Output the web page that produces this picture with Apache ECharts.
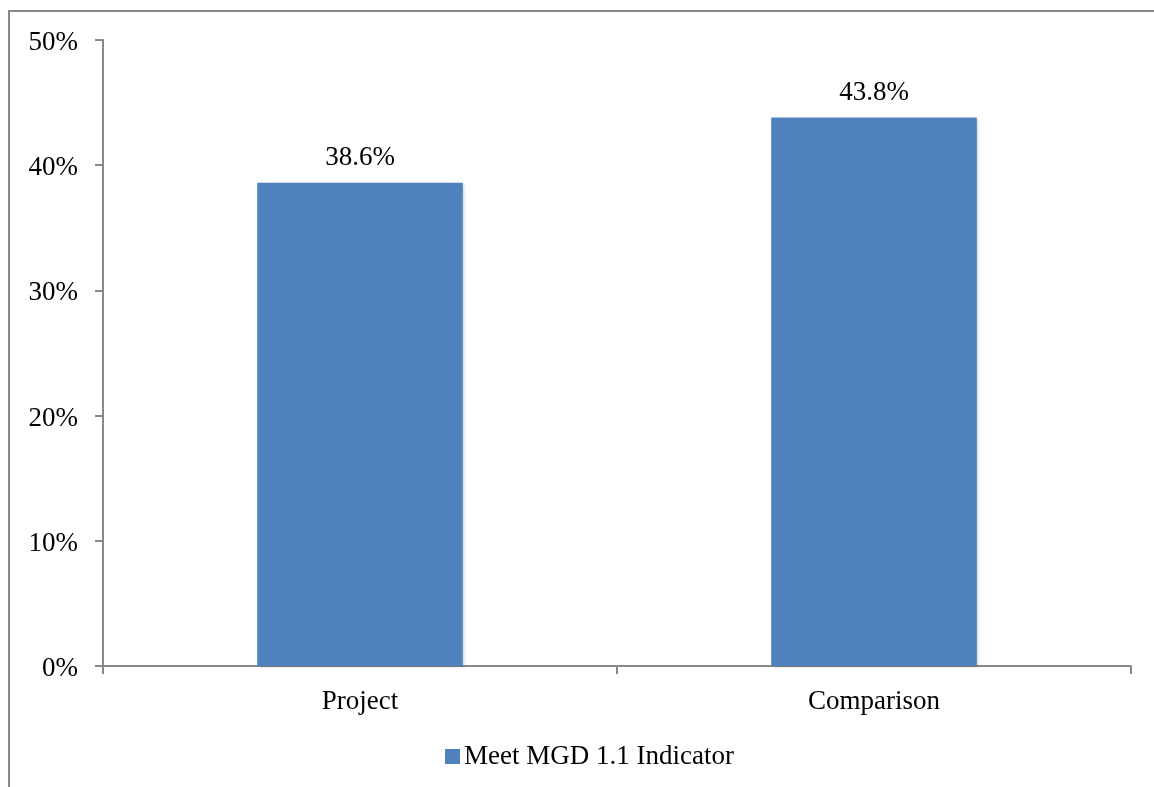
<!DOCTYPE html>
<html>
<head>
<meta charset="utf-8">
<script src="https://cdn.jsdelivr.net/npm/echarts@6/dist/echarts.min.js"></script>
<style>
  html, body { margin: 0; padding: 0; background: #fff; }
  #chart { width: 1154px; height: 787px; }
</style>
</head>
<body>
<div id="chart"></div>
<script>
// Share of households meeting the MGD 1.1 indicator
const categories = ['Project', 'Comparison'];
const meetValues = [38.6, 43.8];
const seriesName = 'Meet MGD 1.1 Indicator';
const yTicks = { min: 0, max: 50, step: 10 };

const FONT = 'Liberation Serif';
const FONT_SIZE = 27;
const AXIS_GRAY = '#888888';

const chart = echarts.init(document.getElementById('chart'));
chart.setOption({
  animation: false,
  backgroundColor: '#ffffff',
  graphic: [{
    type: 'rect',
    shape: { x: 9, y: 11, width: 1300, height: 1000 },
    style: { fill: 'none', stroke: AXIS_GRAY, lineWidth: 2 },
    silent: true
  }],
  grid: { left: 103, top: 40, right: 23, bottom: 121 },
  legend: {
    data: [seriesName],
    top: 738,
    left: 440,
    icon: 'rect',
    itemWidth: 15,
    itemHeight: 15,
    itemGap: 6,
    textStyle: { fontFamily: FONT, fontSize: FONT_SIZE, color: '#000', padding: [0, 0, 0, -1] }
  },
  xAxis: {
    type: 'category',
    data: categories,
    axisLine: { lineStyle: { color: AXIS_GRAY, width: 2 } },
    axisTick: { show: true, length: 8, lineStyle: { color: AXIS_GRAY, width: 2 } },
    axisLabel: { fontFamily: FONT, fontSize: FONT_SIZE, color: '#000', margin: 22 }
  },
  yAxis: {
    type: 'value',
    min: yTicks.min,
    max: yTicks.max,
    interval: yTicks.step,
    splitLine: { show: false },
    axisLine: { show: true, lineStyle: { color: AXIS_GRAY, width: 2 } },
    axisTick: { show: true, length: 8, lineStyle: { color: AXIS_GRAY, width: 2 } },
    axisLabel: {
      margin: 25,
      formatter: v => '{t|' + v + '%}',
      rich: {
        t: {
          fontFamily: FONT, fontSize: FONT_SIZE, color: '#000',
          padding: [6, 0, 0, 0]
        }
      }
    }
  },
  series: [{
    name: seriesName,
    type: 'bar',
    data: meetValues,
    barWidth: '40%',
    itemStyle: {
      color: '#4F81BD',
      shadowColor: 'rgba(0,0,0,0.25)',
      shadowBlur: 3,
      shadowOffsetX: 1.5,
      shadowOffsetY: 1
    },
    label: {
      show: true,
      position: 'top',
      distance: 11,
      fontFamily: FONT,
      fontSize: FONT_SIZE,
      color: '#000',
      formatter: p => p.value.toFixed(1) + '%'
    }
  }]
});
</script>
</body>
</html>
